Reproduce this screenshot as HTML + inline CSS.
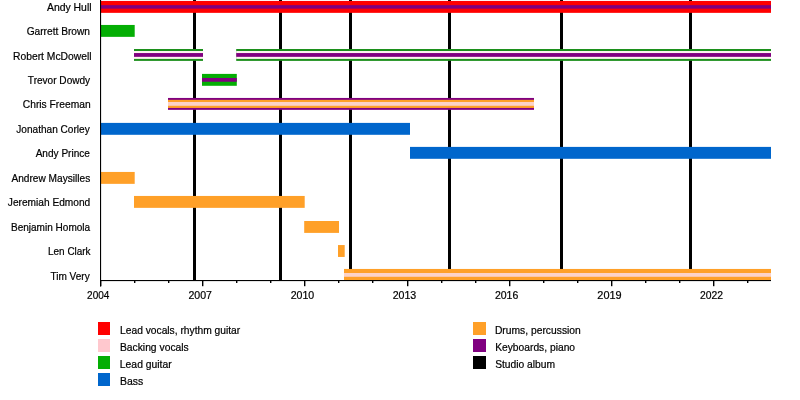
<!DOCTYPE html>
<html><head><meta charset="utf-8"><style>
html,body{margin:0;padding:0;background:#fff;width:800px;height:400px;overflow:hidden}
svg{display:block} text{will-change:transform}
.t{font-family:"Liberation Sans",sans-serif;font-size:11.3px;fill:#000;stroke:#000;stroke-width:0.22px}
</style></head><body>
<svg width="800" height="400" viewBox="0 0 800 400">
<rect x="193.0" y="0" width="3" height="280" fill="#000"/>
<rect x="279.0" y="0" width="3" height="280" fill="#000"/>
<rect x="349.0" y="0" width="3" height="280" fill="#000"/>
<rect x="448.0" y="0" width="3" height="280" fill="#000"/>
<rect x="560.0" y="0" width="3" height="280" fill="#000"/>
<rect x="689.0" y="0" width="3" height="280" fill="#000"/>
<rect x="100" y="0.95" width="671.00" height="11.9" fill="#ff0000"/>
<rect x="100" y="5.15" width="671.00" height="3.5" fill="#800080"/>
<rect x="100" y="24.95" width="34.70" height="11.9" fill="#04ae04"/>
<rect x="134" y="49.00" width="69.00" height="11.9" fill="#1c901c"/>
<rect x="134" y="51.00" width="69.00" height="7.9" fill="#fff4f0"/>
<rect x="134" y="53.05" width="69.00" height="3.8" fill="#800080"/>
<rect x="236.2" y="49.00" width="534.80" height="11.9" fill="#1c901c"/>
<rect x="236.2" y="51.00" width="534.80" height="7.9" fill="#fff4f0"/>
<rect x="236.2" y="53.05" width="534.80" height="3.8" fill="#800080"/>
<rect x="202" y="73.90" width="34.80" height="11.9" fill="#04ae04"/>
<rect x="202" y="77.95" width="34.80" height="3.8" fill="#800080"/>
<rect x="168" y="97.95" width="366.00" height="11.9" fill="#800080"/>
<rect x="168" y="99.85" width="366.00" height="8.1" fill="#ffa028"/>
<rect x="168" y="102.00" width="366.00" height="3.8" fill="#fcd2c8"/>
<rect x="100" y="122.90" width="310.00" height="11.9" fill="#0066cc"/>
<rect x="410" y="146.90" width="361.00" height="11.9" fill="#0066cc"/>
<rect x="100" y="171.95" width="34.70" height="11.9" fill="#ffa028"/>
<rect x="134" y="195.95" width="170.70" height="11.9" fill="#ffa028"/>
<rect x="304.2" y="221.00" width="34.80" height="11.9" fill="#ffa028"/>
<rect x="338" y="245.05" width="6.70" height="11.9" fill="#ffa028"/>
<rect x="344" y="268.95" width="427.00" height="11.9" fill="#ffa028"/>
<rect x="344" y="273.00" width="427.00" height="3.8" fill="#fcd2c8"/>
<rect x="100" y="0" width="1.1" height="286.5" fill="#000"/>
<rect x="100" y="280" width="671" height="1.1" fill="#000"/>
<rect x="100" y="280" width="1.4" height="6.2" fill="#000"/>
<text x="98.25" y="298.80" text-anchor="middle" textLength="22.28" lengthAdjust="spacingAndGlyphs" class="t">2004</text>
<rect x="134" y="280" width="1.4" height="3.0" fill="#000"/>
<rect x="168" y="280" width="1.4" height="3.0" fill="#000"/>
<rect x="202" y="280" width="1.4" height="6.2" fill="#000"/>
<text x="200.19" y="298.80" text-anchor="middle" textLength="23.54" lengthAdjust="spacingAndGlyphs" class="t">2007</text>
<rect x="236" y="280" width="1.4" height="3.0" fill="#000"/>
<rect x="270" y="280" width="1.4" height="3.0" fill="#000"/>
<rect x="304" y="280" width="1.4" height="6.2" fill="#000"/>
<text x="302.44" y="298.80" text-anchor="middle" textLength="23.62" lengthAdjust="spacingAndGlyphs" class="t">2010</text>
<rect x="338" y="280" width="1.4" height="3.0" fill="#000"/>
<rect x="372" y="280" width="1.4" height="3.0" fill="#000"/>
<rect x="407" y="280" width="1.4" height="6.2" fill="#000"/>
<text x="404.48" y="298.80" text-anchor="middle" textLength="23.62" lengthAdjust="spacingAndGlyphs" class="t">2013</text>
<rect x="441" y="280" width="1.4" height="3.0" fill="#000"/>
<rect x="475" y="280" width="1.4" height="3.0" fill="#000"/>
<rect x="509" y="280" width="1.4" height="6.2" fill="#000"/>
<text x="506.59" y="298.80" text-anchor="middle" textLength="23.39" lengthAdjust="spacingAndGlyphs" class="t">2016</text>
<rect x="543" y="280" width="1.4" height="3.0" fill="#000"/>
<rect x="577" y="280" width="1.4" height="3.0" fill="#000"/>
<rect x="611" y="280" width="1.4" height="6.2" fill="#000"/>
<text x="609.50" y="298.80" text-anchor="middle" textLength="24.30" lengthAdjust="spacingAndGlyphs" class="t">2019</text>
<rect x="645" y="280" width="1.4" height="3.0" fill="#000"/>
<rect x="679" y="280" width="1.4" height="3.0" fill="#000"/>
<rect x="713" y="280" width="1.4" height="6.2" fill="#000"/>
<text x="711.55" y="298.80" text-anchor="middle" textLength="23.03" lengthAdjust="spacingAndGlyphs" class="t">2022</text>
<rect x="747" y="280" width="1.4" height="3.0" fill="#000"/>
<text x="91.55" y="10.80" text-anchor="end" textLength="44.61" lengthAdjust="spacingAndGlyphs" class="t">Andy Hull</text>
<text x="90.05" y="35.00" text-anchor="end" textLength="63.42" lengthAdjust="spacingAndGlyphs" class="t">Garrett Brown</text>
<text x="91.48" y="59.70" text-anchor="end" textLength="78.42" lengthAdjust="spacingAndGlyphs" class="t">Robert McDowell</text>
<text x="90.16" y="83.90" text-anchor="end" textLength="62.29" lengthAdjust="spacingAndGlyphs" class="t">Trevor Dowdy</text>
<text x="90.60" y="108.15" text-anchor="end" textLength="67.77" lengthAdjust="spacingAndGlyphs" class="t">Chris Freeman</text>
<text x="89.73" y="132.60" text-anchor="end" textLength="73.48" lengthAdjust="spacingAndGlyphs" class="t">Jonathan Corley</text>
<text x="89.94" y="156.60" text-anchor="end" textLength="54.27" lengthAdjust="spacingAndGlyphs" class="t">Andy Prince</text>
<text x="90.25" y="181.60" text-anchor="end" textLength="78.79" lengthAdjust="spacingAndGlyphs" class="t">Andrew Maysilles</text>
<text x="90.22" y="205.90" text-anchor="end" textLength="82.35" lengthAdjust="spacingAndGlyphs" class="t">Jeremiah Edmond</text>
<text x="90.15" y="230.60" text-anchor="end" textLength="79.20" lengthAdjust="spacingAndGlyphs" class="t">Benjamin Homola</text>
<text x="90.59" y="254.80" text-anchor="end" textLength="42.51" lengthAdjust="spacingAndGlyphs" class="t">Len Clark</text>
<text x="89.73" y="279.70" text-anchor="end" textLength="39.33" lengthAdjust="spacingAndGlyphs" class="t">Tim Very</text>
<rect x="98" y="322" width="12" height="13" fill="#ff0000"/>
<text x="120.06" y="334.20" textLength="120.17" lengthAdjust="spacingAndGlyphs" class="t">Lead vocals, rhythm guitar</text>
<rect x="98" y="339" width="12" height="13" fill="#ffc8ce"/>
<text x="119.88" y="351.20" textLength="68.89" lengthAdjust="spacingAndGlyphs" class="t">Backing vocals</text>
<rect x="98" y="356" width="12" height="13" fill="#04ae04"/>
<text x="119.85" y="368.20" textLength="51.84" lengthAdjust="spacingAndGlyphs" class="t">Lead guitar</text>
<rect x="98" y="373" width="12" height="13" fill="#0066cc"/>
<text x="119.90" y="385.20" textLength="23.29" lengthAdjust="spacingAndGlyphs" class="t">Bass</text>
<rect x="473" y="322" width="13" height="13" fill="#ffa028"/>
<text x="494.90" y="334.20" textLength="85.93" lengthAdjust="spacingAndGlyphs" class="t">Drums, percussion</text>
<rect x="473" y="339" width="13" height="13" fill="#800080"/>
<text x="495.16" y="351.20" textLength="79.90" lengthAdjust="spacingAndGlyphs" class="t">Keyboards, piano</text>
<rect x="473" y="356" width="13" height="13" fill="#000000"/>
<text x="495.14" y="368.20" textLength="60.00" lengthAdjust="spacingAndGlyphs" class="t">Studio album</text>
</svg>
</body></html>
